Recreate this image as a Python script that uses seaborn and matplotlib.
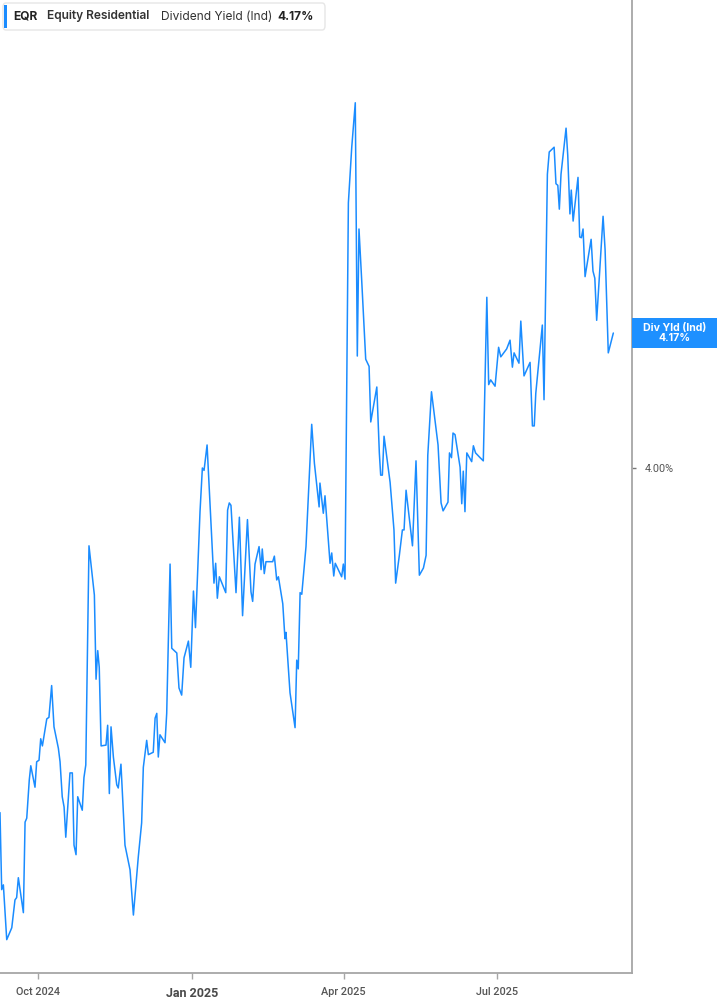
import matplotlib
matplotlib.use("Agg")
import matplotlib.pyplot as plt
import matplotlib.dates as mdates
from matplotlib.patches import FancyBboxPatch, Rectangle
import numpy as np
import pandas as pd
import seaborn as sns

# ---------------- data ----------------
ticker = "EQR"
company = "Equity Residential"
metric = "Dividend Yield (Ind)"
short_metric = "Div Yld (Ind)"
current_value = 4.17

# days since 1 Oct 2024
day_offset = [
    -22.3, -21.3, -20.3, -18.3, -15.3, -13.4, -12.4, -11.4, -8.4, -7.4,
    -6.4, -4.9, -4.0, -1.5, -0.5, 0.9, 1.9, 2.9, 5.5, 6.8,
    8.4, 9.8, 12.4, 13.4, 14.7, 15.8, 16.8, 19.3, 20.7, 21.7,
    22.9, 23.9, 26.6, 27.6, 28.7, 30.6, 33.8, 34.8, 35.8, 36.7,
    37.8, 40.7, 41.7, 42.7, 43.7, 45.1, 47.1, 48.0, 49.6, 52.0,
    55.0, 57.0, 59.9, 61.9, 62.9, 64.9, 65.9, 68.8, 69.9, 70.9,
    71.8, 72.8, 75.8, 76.8, 78.8, 79.8, 82.8, 84.1, 85.7, 87.1,
    89.7, 91.1, 92.7, 93.9, 96.6, 98.0, 99.0, 100.8, 102.6, 104.9,
    105.9, 106.9, 108.1, 111.9, 113.0, 114.0, 115.0, 118.0, 120.0, 121.9,
    124.8, 126.9, 127.9, 129.3, 131.7, 132.9, 133.6, 134.8, 135.8, 139.8,
    140.8, 142.2, 143.2, 145.8, 147.1, 147.7, 150.1, 153.1, 154.1, 155.0,
    156.1, 157.1, 159.6, 163.0, 164.6, 167.4, 167.9, 169.9, 170.9, 173.9,
    174.9, 176.1, 177.0, 180.8, 181.8, 182.8, 184.8, 186.8, 188.9, 190.1,
    191.1, 192.7, 195.1, 197.1, 198.1, 201.7, 203.2, 204.0, 205.0, 206.0,
    209.6, 211.9, 212.9, 215.1, 216.9, 217.9, 219.1, 222.9, 225.0, 227.0,
    229.4, 231.0, 232.0, 234.2, 238.1, 239.9, 241.1, 244.0, 244.9, 246.1,
    247.0, 248.2, 251.2, 252.2, 253.1, 254.1, 255.2, 258.1, 259.1, 260.4,
    263.1, 265.0, 267.1, 268.2, 269.4, 272.0, 274.1, 275.4, 278.9, 280.9,
    282.3, 283.3, 286.2, 287.3, 289.2, 292.8, 294.2, 295.3, 296.2, 300.1,
    301.1, 303.1, 304.2, 307.1, 308.2, 309.3, 310.2, 311.2, 314.2, 315.2,
    316.5, 317.3, 318.4, 321.3, 322.3, 323.3, 324.3, 325.5, 329.1, 330.2,
    331.3, 332.4, 336.2, 337.4, 339.3, 342.3,
]

div_yield = [
    3.566, 3.469, 3.475, 3.406, 3.421, 3.456, 3.459, 3.484, 3.440, 3.554,
    3.559, 3.607, 3.625, 3.598, 3.630, 3.632, 3.659, 3.650, 3.684, 3.686,
    3.726, 3.674, 3.647, 3.630, 3.586, 3.573, 3.535, 3.616, 3.616, 3.525,
    3.513, 3.586, 3.569, 3.610, 3.626, 3.902, 3.840, 3.734, 3.770, 3.749,
    3.650, 3.651, 3.676, 3.590, 3.674, 3.636, 3.601, 3.597, 3.627, 3.525,
    3.494, 3.437, 3.510, 3.553, 3.623, 3.657, 3.639, 3.642, 3.685, 3.691,
    3.636, 3.664, 3.654, 3.691, 3.879, 3.773, 3.767, 3.723, 3.714, 3.761,
    3.782, 3.749, 3.845, 3.799, 3.945, 4.000, 3.997, 4.029, 3.953, 3.855,
    3.880, 3.836, 3.863, 3.843, 3.947, 3.956, 3.953, 3.843, 3.938, 3.814,
    3.935, 3.844, 3.832, 3.879, 3.901, 3.872, 3.898, 3.867, 3.882, 3.882,
    3.889, 3.859, 3.863, 3.829, 3.785, 3.793, 3.717, 3.673, 3.758, 3.747,
    3.843, 3.841, 3.901, 4.055, 4.006, 3.951, 3.981, 3.943, 3.965, 3.880,
    3.893, 3.864, 3.880, 3.863, 3.879, 3.860, 4.334, 4.404, 4.460, 4.141,
    4.301, 4.237, 4.137, 4.128, 4.058, 4.102, 4.019, 3.991, 3.991, 4.040,
    3.982, 3.922, 3.855, 3.890, 3.922, 3.922, 3.972, 3.902, 4.009, 3.865,
    3.874, 3.890, 4.016, 4.096, 4.029, 3.956, 3.946, 3.957, 4.019, 4.013,
    4.044, 4.042, 4.001, 3.955, 3.996, 3.945, 4.019, 4.008, 4.028, 4.019,
    4.013, 4.009, 4.215, 4.105, 4.111, 4.103, 4.152, 4.140, 4.150, 4.161,
    4.127, 4.145, 4.132, 4.185, 4.116, 4.133, 4.053, 4.053, 4.094, 4.180,
    4.086, 4.370, 4.398, 4.404, 4.358, 4.356, 4.326, 4.370, 4.428, 4.394,
    4.320, 4.350, 4.311, 4.366, 4.291, 4.290, 4.301, 4.241, 4.288, 4.248,
    4.239, 4.186, 4.317, 4.275, 4.145, 4.170,
]

tick_dates = ["2024-10-01", "2025-01-01", "2025-04-01", "2025-07-01"]
tick_labels = ["Oct 2024", "Jan 2025", "Apr 2025", "Jul 2025"]
y_ticks = [4.00]
y_tick_labels = ["4.00%"]

# ---------------- style ----------------
sns.set_style("white")
plt.rcParams["font.family"] = ["Inter", "DejaVu Sans"]

LINE = "#1a8cff"
AXIS = "#a6a6a6"
TEXT = "#555555"

base = pd.Timestamp("2024-10-01")
df = pd.DataFrame({
    "date": base + pd.to_timedelta(day_offset, unit="D"),
    "value": div_yield,
})

W, H = 717, 1005
fig = plt.figure(figsize=(W / 100, H / 100), dpi=100)
fig.patch.set_facecolor("white")
ax = fig.add_axes([0, 1 - 973 / H, 632 / W, 973 / H])

sns.lineplot(data=df, x="date", y="value", ax=ax, color=LINE,
             linewidth=1.1, estimator=None, sort=False)

x0 = mdates.date2num(base)
ax.set_xlim(x0 - 22.3, x0 + 353.4)
ymin, ymax = 3.364, 4.5894
ax.set_ylim(ymin, ymax)

ax.set_xlabel("")
ax.set_ylabel("")
ax.grid(False)

for s in ["left", "top"]:
    ax.spines[s].set_visible(False)
for s in ["right", "bottom"]:
    ax.spines[s].set_visible(True)
    ax.spines[s].set_color(AXIS)
    ax.spines[s].set_linewidth(1.3)

ax.set_xticks([mdates.date2num(pd.Timestamp(d)) for d in tick_dates])
ax.set_xticklabels(tick_labels)
ax.tick_params(axis="x", direction="out", length=4, width=1, color=AXIS,
               pad=6, labelsize=7.8, labelcolor=TEXT, bottom=True)
for lab in ax.get_xticklabels():
    lab.set_family(["Roboto", "DejaVu Sans"])
    lab.set_fontweight("medium")
    if lab.get_text().startswith("Jan"):
        lab.set_fontweight("bold")
        lab.set_fontsize(9)
        lab.set_color("#4a4a4a")

ax.yaxis.tick_right()
ax.set_yticks(y_ticks)
ax.set_yticklabels(y_tick_labels)
ax.tick_params(axis="y", direction="out", length=3, width=1, color="#777777",
               pad=6, labelsize=7.8, labelcolor=TEXT, right=True, left=False)
for lab in ax.get_yticklabels():
    lab.set_family(["Roboto", "DejaVu Sans"])

# current value box on right axis
yf = (current_value - ymin) / (ymax - ymin)
hf = 30 / 973
ax.add_patch(Rectangle((1.0, yf - hf / 2), 85 / 632, hf, transform=ax.transAxes,
                       facecolor="#1e90ff", edgecolor="none", clip_on=False,
                       zorder=5))
ax.text(1.0 + 85 / 632 / 2, yf, f"{short_metric}\n{current_value:.2f}%",
        transform=ax.transAxes, ha="center", va="center", color="white",
        fontsize=7.6, fontweight="bold", linespacing=1.0, zorder=6,
        clip_on=False)

# header legend box
fig.add_artist(FancyBboxPatch((3 / W, 1 - 30 / H), 322 / W, 27 / H,
                              boxstyle="round,pad=0,rounding_size=0.004",
                              transform=fig.transFigure, facecolor="white",
                              edgecolor="#e6e6e6", linewidth=1.0, zorder=10))
fig.add_artist(Rectangle((4 / W, 1 - 28 / H), 3 / W, 23 / H,
                         transform=fig.transFigure, facecolor="#1a8cff",
                         edgecolor="none", zorder=11))
ty = 1 - 16.5 / H
fig.text(13 / W, ty, ticker, fontsize=8.6, fontweight="bold", color="#222222",
         va="center", ha="left", zorder=12)
fig.text(47 / W, ty, company, fontsize=8.6, fontweight="semibold",
         color="#333333", va="center", ha="left", zorder=12)
fig.text(161 / W, ty, metric, fontsize=8.6, fontweight="normal",
         color="#333333", va="center", ha="left", zorder=12)
fig.text(277 / W, ty, f"{current_value:.2f}%", fontsize=8.6,
         fontweight="bold", color="#222222", va="center", ha="left", zorder=12)

fig.savefig("out.png", dpi=100, facecolor="white")
